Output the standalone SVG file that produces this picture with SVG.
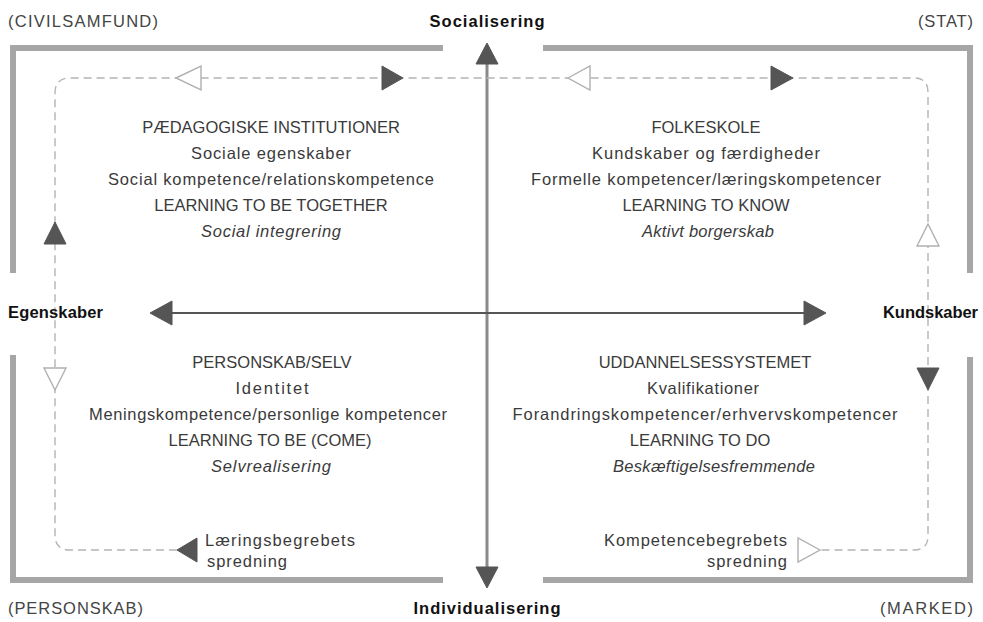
<svg xmlns="http://www.w3.org/2000/svg" width="983" height="622" viewBox="0 0 983 622">
<style>
text{font-family:"Liberation Sans",Arial,sans-serif;fill:#3a3a3a}
.q{font-size:16.5px;text-anchor:middle}
.it{font-style:italic}
.b{font-weight:bold;font-size:16.5px;fill:#111}
.c{font-size:16.5px;fill:#444}
.s{font-size:16.5px}
.bar{stroke:#a6a6a6;stroke-width:6;fill:none}
.dash{stroke:#b4b4b4;stroke-width:1.4;fill:none;stroke-dasharray:8 5}
.fill{fill:#555;stroke:#555;stroke-width:1}
.hollow{fill:#fff;stroke:#b0b0b0;stroke-width:1.4}
</style>
<rect width="983" height="622" fill="#fff"/>
<g id="frame">
<path class="bar" d="M13 273 V48 H443"/>
<path class="bar" d="M543 48 H970 V273"/>
<path class="bar" d="M13 355 V580 H443"/>
<path class="bar" d="M543 580 H970 V357"/>
</g>
<g id="connectors">
<line x1="487" y1="62" x2="487" y2="569" stroke="#8a8a8a" stroke-width="3"/>
<polygon class="fill" points="487,43 476,64 498,64"/>
<polygon class="fill" points="487,588 476,567 498,567"/>
<line x1="170" y1="313" x2="808" y2="313" stroke="#555" stroke-width="2.2"/>
<polygon class="fill" points="150,313 172,301 172,325"/>
<polygon class="fill" points="826,313 804,301 804,325"/>
<path class="dash" d="M177 550 H70 Q55 550 55 535 V93 Q55 78 70 78 H914 Q928 78 928 92 V536 Q928 550 914 550 H820"/>
<polygon class="hollow" points="176,78 201,66 201,90"/>
<polygon class="fill" points="403,78 382,66 382,90"/>
<polygon class="hollow" points="568,78 590,66 590,90"/>
<polygon class="fill" points="793,78 771,66 771,90"/>
<polygon class="hollow" points="928,224 917,246 939,246"/>
<polygon class="fill" points="928,390 917,368 939,368"/>
<polygon class="fill" points="55,222 44,244 66,244"/>
<polygon class="hollow" points="55,390 44,368 66,368"/>
<polygon class="fill" points="177,550 197,538 197,562"/>
<polygon class="hollow" points="820,550 798,538 798,562"/>
</g>
<g id="corner-civilsamfund"><text class="c" x="8" y="27" textLength="150">(CIVILSAMFUND)</text></g>
<g id="corner-stat"><text class="c" x="973" y="27" text-anchor="end" textLength="55">(STAT)</text></g>
<g id="corner-personskab"><text class="c" x="8" y="614" textLength="135">(PERSONSKAB)</text></g>
<g id="corner-marked"><text class="c" x="973" y="614" text-anchor="end" textLength="93">(MARKED)</text></g>
<g id="axis-socialisering"><text class="b" x="487" y="27" text-anchor="middle" textLength="115">Socialisering</text></g>
<g id="axis-individualisering"><text class="b" x="487" y="614" text-anchor="middle" textLength="147">Individualisering</text></g>
<g id="axis-egenskaber"><text class="b" x="8" y="318" textLength="95">Egenskaber</text></g>
<g id="axis-kundskaber"><text class="b" x="978" y="318" text-anchor="end" textLength="95">Kundskaber</text></g>
<g id="quadrant-tl">
<text class="q" x="271" y="133">PÆDAGOGISKE INSTITUTIONER</text>
<text class="q" x="271" y="159" textLength="160">Sociale egenskaber</text>
<text class="q" x="271" y="185" textLength="326">Social kompetence/relationskompetence</text>
<text class="q" x="271" y="211">LEARNING TO BE TOGETHER</text>
<text class="q it" x="271" y="237" textLength="140">Social integrering</text>
</g>
<g id="quadrant-tr">
<text class="q" x="706" y="133">FOLKESKOLE</text>
<text class="q" x="706" y="159" textLength="228">Kundskaber og færdigheder</text>
<text class="q" x="706" y="185" textLength="350">Formelle kompetencer/læringskompetencer</text>
<text class="q" x="706" y="211">LEARNING TO KNOW</text>
<text class="q it" x="708" y="237" textLength="132">Aktivt borgerskab</text>
</g>
<g id="quadrant-bl">
<text class="q" x="272" y="368">PERSONSKAB/SELV</text>
<text class="q" x="272" y="394" textLength="73">Identitet</text>
<text class="q" x="268" y="420" textLength="358">Meningskompetence/personlige kompetencer</text>
<text class="q" x="270" y="446">LEARNING TO BE (COME)</text>
<text class="q it" x="271" y="472" textLength="120">Selvrealisering</text>
</g>
<g id="quadrant-br">
<text class="q" x="705" y="368">UDDANNELSESSYSTEMET</text>
<text class="q" x="703" y="394" textLength="112">Kvalifikationer</text>
<text class="q" x="705" y="420" textLength="385">Forandringskompetencer/erhvervskompetencer</text>
<text class="q" x="700" y="446">LEARNING TO DO</text>
<text class="q it" x="714" y="472" textLength="202">Beskæftigelsesfremmende</text>
</g>
<g id="label-laering">
<text class="s" x="205" y="546" textLength="150">Læringsbegrebets</text>
<text class="s" x="207" y="567" textLength="80">spredning</text>
</g>
<g id="label-kompetence">
<text class="s" x="787" y="546" text-anchor="end" textLength="183">Kompetencebegrebets</text>
<text class="s" x="787" y="567" text-anchor="end" textLength="80">spredning</text>
</g>
</svg>
